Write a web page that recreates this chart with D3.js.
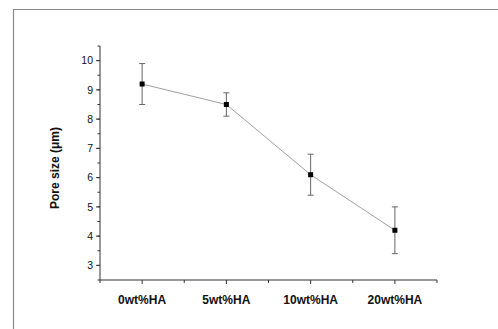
<!DOCTYPE html>
<html>
<head>
<meta charset="utf-8">
<script src="https://cdn.jsdelivr.net/npm/d3@7"></script>
<style>
  body { margin: 0; background: #fff; }
  svg { display: block; }
  text { font-family: "Liberation Sans", Arial, sans-serif; }
</style>
</head>
<body>
<div id="chart"></div>
<script>
// chart data
var categories = ["0wt%HA", "5wt%HA", "10wt%HA", "20wt%HA"];
var poreSize = [9.2, 8.5, 6.1, 4.2];
var poreErr = [0.7, 0.4, 0.7, 0.8];
var yTicks = [3, 4, 5, 6, 7, 8, 9, 10];

var width = 498, height = 329;
var margin = { left: 100, top: 46, right: 61, bottom: 49 };

var svg = d3.select("#chart").append("svg")
  .attr("width", width)
  .attr("height", height);

// outer frame (left + top edges visible)
svg.append("path")
  .attr("d", "M13.5," + height + "V9.5H" + width)
  .attr("fill", "none")
  .attr("stroke", "#8a8a8a")
  .attr("stroke-width", 1.2);

var x = d3.scaleLinear()
  .domain([0, categories.length])
  .range([margin.left, width - margin.right]);

var y = d3.scaleLinear()
  .domain([2.5, 10.5])
  .range([height - margin.bottom, margin.top]);

var cx = function(i) { return x(i + 0.5); };

// y axis
var yAxis = svg.append("g")
  .attr("transform", "translate(" + margin.left + ",0)");
yAxis.append("line")
  .attr("x1", 0).attr("x2", 0)
  .attr("y1", y(2.5)).attr("y2", y(10.5))
  .attr("stroke", "#333");
yAxis.selectAll(".minor")
  .data(d3.range(2.5, 10.6, 0.5))
  .enter().append("line")
  .attr("x1", -2.5).attr("x2", 0)
  .attr("y1", function(d) { return y(d); })
  .attr("y2", function(d) { return y(d); })
  .attr("stroke", "#333");
yAxis.selectAll(".major")
  .data(yTicks)
  .enter().append("line")
  .attr("x1", -4).attr("x2", 0)
  .attr("y1", function(d) { return y(d); })
  .attr("y2", function(d) { return y(d); })
  .attr("stroke", "#333");
yAxis.selectAll(".lab")
  .data(yTicks)
  .enter().append("text")
  .attr("x", -7)
  .attr("y", function(d) { return y(d); })
  .attr("dy", "0.35em")
  .attr("text-anchor", "end")
  .attr("font-size", 10.5)
  .attr("fill", "#111")
  .text(function(d) { return d; });

// x axis
var xAxis = svg.append("g")
  .attr("transform", "translate(0," + y(2.5) + ")");
xAxis.append("line")
  .attr("x1", x(0)).attr("x2", x(categories.length))
  .attr("stroke", "#333");
xAxis.selectAll(".minor")
  .data(d3.range(0, categories.length + 1))
  .enter().append("line")
  .attr("x1", function(d) { return x(d); })
  .attr("x2", function(d) { return x(d); })
  .attr("y1", 0).attr("y2", 3)
  .attr("stroke", "#333");
xAxis.selectAll(".major")
  .data(categories)
  .enter().append("line")
  .attr("x1", function(d, i) { return cx(i); })
  .attr("x2", function(d, i) { return cx(i); })
  .attr("y1", 0).attr("y2", 4)
  .attr("stroke", "#333");
xAxis.selectAll(".lab")
  .data(categories)
  .enter().append("text")
  .attr("x", function(d, i) { return cx(i); })
  .attr("y", 24)
  .attr("text-anchor", "middle")
  .attr("font-size", 12)
  .attr("font-weight", "bold")
  .attr("fill", "#111")
  .text(function(d) { return d; });

// y title
svg.append("text")
  .attr("transform", "translate(59," + ((y(2.5) + y(10.5)) / 2 + 5) + ") rotate(-90)")
  .attr("text-anchor", "middle")
  .attr("font-size", 12)
  .attr("font-weight", "bold")
  .attr("fill", "#111")
  .text("Pore size (\u03bcm)");

// connecting line
var line = d3.line()
  .x(function(d, i) { return cx(i); })
  .y(function(d) { return y(d); });
svg.append("path")
  .datum(poreSize)
  .attr("d", line)
  .attr("fill", "none")
  .attr("stroke", "#a0a0a0")
  .attr("stroke-width", 1);

// error bars
var err = svg.selectAll(".err")
  .data(poreSize)
  .enter().append("g")
  .attr("stroke", "#666")
  .attr("stroke-width", 1);
err.append("line")
  .attr("x1", function(d, i) { return cx(i); })
  .attr("x2", function(d, i) { return cx(i); })
  .attr("y1", function(d, i) { return y(d - poreErr[i]); })
  .attr("y2", function(d, i) { return y(d + poreErr[i]); });
err.append("line")
  .attr("x1", function(d, i) { return cx(i) - 3; })
  .attr("x2", function(d, i) { return cx(i) + 3; })
  .attr("y1", function(d, i) { return y(d + poreErr[i]); })
  .attr("y2", function(d, i) { return y(d + poreErr[i]); });
err.append("line")
  .attr("x1", function(d, i) { return cx(i) - 3; })
  .attr("x2", function(d, i) { return cx(i) + 3; })
  .attr("y1", function(d, i) { return y(d - poreErr[i]); })
  .attr("y2", function(d, i) { return y(d - poreErr[i]); });

// markers
svg.selectAll(".pt")
  .data(poreSize)
  .enter().append("rect")
  .attr("x", function(d, i) { return cx(i) - 2.5; })
  .attr("y", function(d) { return y(d) - 2.5; })
  .attr("width", 5)
  .attr("height", 5)
  .attr("fill", "#000");
</script>
</body>
</html>
